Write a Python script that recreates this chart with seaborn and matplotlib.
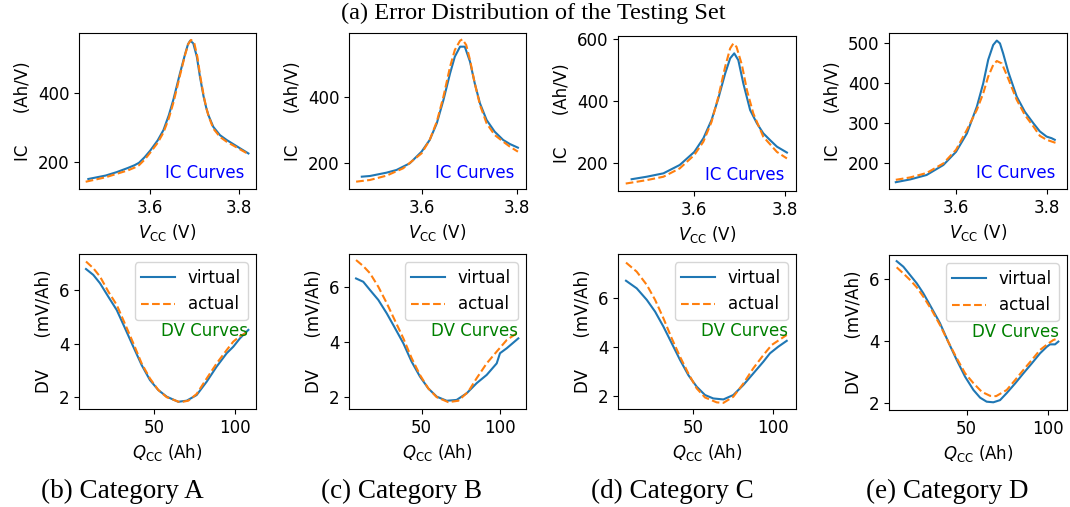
import seaborn as sns
import matplotlib.pyplot as plt

# ---- IC curves (voltage in V, IC in Ah/V) ----
V_A_virtual = [3.461, 3.50, 3.525, 3.55, 3.565, 3.575, 3.5875, 3.60, 3.617, 3.630, 3.642, 3.652, 3.660, 3.667,
               3.679, 3.685, 3.690, 3.697, 3.705, 3.712, 3.720, 3.726, 3.731, 3.742, 3.757, 3.772, 3.787, 3.802, 3.821]
IC_A_virtual = [150, 160, 170, 182, 190, 197, 213, 232, 262, 292, 335, 379, 420, 456,
                514, 540, 551, 543, 504, 446, 390, 357, 335, 301, 277, 263, 251, 239, 224]
V_A_actual = [3.455, 3.50, 3.525, 3.55, 3.565, 3.575, 3.5875, 3.60, 3.617, 3.630, 3.642, 3.652, 3.660, 3.667,
              3.679, 3.686, 3.692, 3.699, 3.706, 3.713, 3.721, 3.727, 3.732, 3.742, 3.757, 3.772, 3.787, 3.802, 3.821]
IC_A_actual = [142, 155, 165, 175, 183, 190, 206, 226, 255, 285, 326, 370, 412, 450,
               512, 542, 553, 545, 505, 445, 387, 352, 330, 296, 272, 258, 247, 236, 222]

V_B_virtual = [3.474, 3.491, 3.526, 3.547, 3.575, 3.600, 3.617, 3.632, 3.646, 3.660, 3.670, 3.681, 3.691,
               3.702, 3.712, 3.723, 3.737, 3.754, 3.772, 3.786, 3.803]
IC_B_virtual = [160, 162, 172, 180, 200, 235, 270, 320, 390, 470, 520, 550, 550,
                505, 440, 380, 330, 295, 270, 258, 247]
V_B_actual = [3.462, 3.491, 3.526, 3.561, 3.600, 3.617, 3.632, 3.646, 3.660, 3.670, 3.681, 3.686, 3.694,
              3.702, 3.712, 3.723, 3.737, 3.754, 3.772, 3.786, 3.803]
IC_B_actual = [145, 150, 163, 185, 230, 270, 325, 400, 490, 540, 568, 572, 555,
               510, 440, 375, 320, 285, 265, 250, 235]

V_C_virtual = [3.462, 3.495, 3.532, 3.568, 3.600, 3.620, 3.638, 3.653, 3.668, 3.679, 3.688, 3.697, 3.708,
               3.723, 3.738, 3.752, 3.767, 3.782, 3.804]
IC_C_virtual = [149, 157, 168, 195, 237, 281, 340, 410, 490, 539, 555, 533, 458,
                372, 329, 297, 275, 254, 235]
V_C_actual = [3.449, 3.495, 3.532, 3.568, 3.600, 3.620, 3.638, 3.653, 3.668, 3.679, 3.686, 3.693, 3.705,
              3.716, 3.730, 3.752, 3.782, 3.804]
IC_C_actual = [135, 146, 157, 184, 227, 270, 334, 415, 512, 571, 587, 576, 517,
               436, 361, 286, 237, 216]

V_D_virtual = [3.467, 3.499, 3.535, 3.572, 3.600, 3.624, 3.646, 3.660, 3.671, 3.682, 3.690, 3.697, 3.704,
               3.715, 3.734, 3.752, 3.771, 3.785, 3.800, 3.811, 3.818]
IC_D_virtual = [151, 158, 169, 194, 227, 273, 340, 398, 457, 494, 505, 498, 473,
                428, 365, 327, 298, 278, 265, 261, 257]
V_D_actual = [3.467, 3.499, 3.535, 3.572, 3.600, 3.624, 3.646, 3.660, 3.671, 3.682, 3.690, 3.701, 3.712,
              3.734, 3.752, 3.771, 3.785, 3.800, 3.826]
IC_D_actual = [157, 163, 174, 198, 232, 282, 332, 373, 415, 444, 454, 448, 419,
               357, 319, 290, 267, 257, 247]

# ---- DV curves (capacity in Ah, DV in mV/Ah) ----
Q_A_virtual = [8.2, 12.7, 16.8, 21.9, 27.1, 32.2, 37.3, 42.4, 47.5, 52.6, 57.8, 64.9, 70.1,
               76.2, 82.4, 88.5, 94.7, 98.7, 102.9, 108.0]
DV_A_virtual = [6.78, 6.56, 6.25, 5.75, 5.25, 4.57, 3.88, 3.20, 2.64, 2.27, 2.02, 1.83, 1.87,
                2.08, 2.58, 3.14, 3.64, 3.88, 4.20, 4.51]
Q_A_actual = [8.2, 12.7, 16.8, 21.9, 27.1, 32.2, 37.3, 42.4, 47.5, 52.6, 57.8, 66.0, 71.1,
              76.2, 82.4, 88.5, 94.7, 98.7, 102.9, 108.0]
DV_A_actual = [7.06, 6.81, 6.50, 5.94, 5.44, 4.73, 4.01, 3.26, 2.70, 2.27, 2.00, 1.81, 1.87,
               2.12, 2.70, 3.26, 3.76, 4.07, 4.28, 4.44]

Q_B_virtual = [8.1, 12.7, 17.0, 22.3, 27.7, 33.0, 38.3, 43.6, 48.9, 54.2, 59.6, 66.0, 72.3,
               78.7, 85.1, 91.5, 97.9, 100.0, 104.3, 111.7]
DV_B_virtual = [6.30, 6.18, 5.88, 5.52, 5.03, 4.49, 3.94, 3.27, 2.73, 2.30, 2.00, 1.85, 1.88,
                2.12, 2.49, 2.79, 3.21, 3.58, 3.76, 4.12]
Q_B_actual = [8.1, 12.7, 17.0, 22.3, 27.7, 33.0, 38.3, 43.6, 48.9, 54.2, 59.6, 67.0, 73.4,
              79.7, 85.1, 91.5, 97.9, 104.3, 110.6]
DV_B_actual = [6.97, 6.75, 6.49, 6.00, 5.40, 4.76, 4.12, 3.40, 2.79, 2.30, 1.98, 1.80, 1.85,
               2.18, 2.67, 3.21, 3.64, 4.06, 4.30]

Q_C_virtual = [7.9, 14.6, 20.9, 26.1, 31.3, 36.5, 41.7, 46.9, 52.1, 57.3, 62.5, 68.8, 75.0,
               81.3, 87.5, 93.8, 97.9, 103.1, 108.4]
DV_C_virtual = [6.69, 6.38, 5.91, 5.43, 4.82, 4.14, 3.46, 2.84, 2.37, 2.03, 1.89, 1.85, 2.03,
                2.44, 2.91, 3.39, 3.73, 4.00, 4.24]
Q_C_actual = [7.9, 14.6, 20.9, 26.1, 31.3, 36.5, 41.7, 46.9, 52.1, 57.3, 64.6, 68.8, 75.0,
              81.3, 87.5, 93.8, 99.0, 108.4]
DV_C_actual = [7.43, 7.06, 6.52, 5.91, 5.16, 4.34, 3.59, 2.91, 2.30, 1.93, 1.73, 1.71, 1.96,
               2.50, 3.12, 3.66, 4.07, 4.48]

Q_D_virtual = [7.1, 11.2, 15.3, 19.4, 23.4, 28.6, 33.6, 38.7, 43.9, 49.0, 54.1, 58.2, 62.2,
               66.3, 70.4, 74.5, 79.6, 84.7, 89.8, 94.9, 99.0, 101.0, 104.1, 106.1]
DV_D_virtual = [6.59, 6.41, 6.14, 5.87, 5.55, 5.06, 4.58, 3.97, 3.38, 2.84, 2.41, 2.16, 2.03,
                2.01, 2.08, 2.31, 2.62, 2.95, 3.27, 3.60, 3.81, 3.89, 3.89, 3.98]
Q_D_actual = [7.1, 11.2, 15.3, 19.4, 23.4, 28.6, 33.6, 38.7, 43.9, 49.0, 54.1, 59.2, 64.3,
              68.0, 74.5, 79.6, 84.7, 89.8, 94.9, 100.0, 103.0, 106.1]
DV_D_actual = [6.39, 6.19, 5.98, 5.74, 5.44, 5.00, 4.52, 3.97, 3.44, 2.95, 2.63, 2.35, 2.22,
               2.21, 2.41, 2.73, 3.06, 3.38, 3.71, 3.92, 4.03, 4.09]

captions = ['(b) Category A', '(c) Category B', '(d) Category C', '(e) Category D']

ic_data = [(V_A_virtual, IC_A_virtual, V_A_actual, IC_A_actual),
           (V_B_virtual, IC_B_virtual, V_B_actual, IC_B_actual),
           (V_C_virtual, IC_C_virtual, V_C_actual, IC_C_actual),
           (V_D_virtual, IC_D_virtual, V_D_actual, IC_D_actual)]
dv_data = [(Q_A_virtual, DV_A_virtual, Q_A_actual, DV_A_actual),
           (Q_B_virtual, DV_B_virtual, Q_B_actual, DV_B_actual),
           (Q_C_virtual, DV_C_virtual, Q_C_actual, DV_C_actual),
           (Q_D_virtual, DV_D_virtual, Q_D_actual, DV_D_actual)]

plt.rcParams['font.family'] = ['DejaVu Sans']
plt.rcParams['mathtext.fontset'] = 'dejavusans'
plt.rcParams['font.size'] = 12

W, H = 1070, 507
fig = plt.figure(figsize=(W / 100, H / 100), dpi=100)

# axes boxes in pixels: left, top, right, bottom
top_boxes = [(79, 33, 256, 189), (349, 33, 526, 189), (618, 36, 796, 191), (889, 33, 1067, 189)]
bot_boxes = [(79, 254, 256, 409), (349, 254, 526, 409), (618, 254, 796, 409), (889, 255, 1067, 410)]
ic_xlim = [(3.44, 3.838), (3.447, 3.82), (3.432, 3.824), (3.452, 3.845)]
ic_ylim = [(121, 573), (123, 591), (111, 611), (134, 524)]
dv_xlim = [(3.9, 112.7), (3.6, 116.6), (2.9, 114.2), (2.4, 111.4)]
dv_ylim = [(1.56, 7.34), (1.55, 7.19), (1.46, 7.78), (1.76, 6.79)]


def box(b):
    l, t, r, bt = b
    return [l / W, 1 - bt / H, (r - l) / W, (bt - t) / H]


for i in range(4):
    ax = fig.add_axes(box(top_boxes[i]))
    vx, vy, ax_, ay = ic_data[i]
    sns.lineplot(x=vx, y=vy, ax=ax, color='tab:blue', linewidth=1.5)
    sns.lineplot(x=ax_, y=ay, ax=ax, color='tab:orange', linestyle='--', linewidth=1.5)
    ax.set_xlim(ic_xlim[i])
    ax.set_ylim(ic_ylim[i])
    ax.set_xticks([3.6, 3.8])
    ax.set_xlabel(r'$V_{\mathrm{CC}}$ (V)')
    ax.set_ylabel('IC      (Ah/V)')
    ax.text(0.935, 0.105, 'IC Curves', color='blue', ha='right', va='center',
            transform=ax.transAxes)

    ax = fig.add_axes(box(bot_boxes[i]))
    qx, qy, bx, by = dv_data[i]
    sns.lineplot(x=qx, y=qy, ax=ax, color='tab:blue', linewidth=1.5, label='virtual')
    sns.lineplot(x=bx, y=by, ax=ax, color='tab:orange', linestyle='--', linewidth=1.5, label='actual')
    ax.set_xlim(dv_xlim[i])
    ax.set_ylim(dv_ylim[i])
    ax.set_xticks([50, 100])
    ax.set_xlabel(r'$Q_{\mathrm{CC}}$ (Ah)')
    ax.set_ylabel('DV      (mV/Ah)')
    ax.legend(loc='upper right')
    ax.text(0.957, 0.505, 'DV Curves', color='green', ha='right', va='center',
            transform=ax.transAxes)

cap_x = [122, 402, 672, 947]
for cx, txt in zip(cap_x, captions):
    fig.text(cx / W, 1 - 491 / H, txt, family='Liberation Serif', fontsize=19.5,
             ha='center', va='center')
fig.text(533 / W, 1 - 13 / H, '(a) Error Distribution of the Testing Set',
         family='Liberation Serif', fontsize=17.5, ha='center', va='center')

fig.savefig('out.png', dpi=100)
